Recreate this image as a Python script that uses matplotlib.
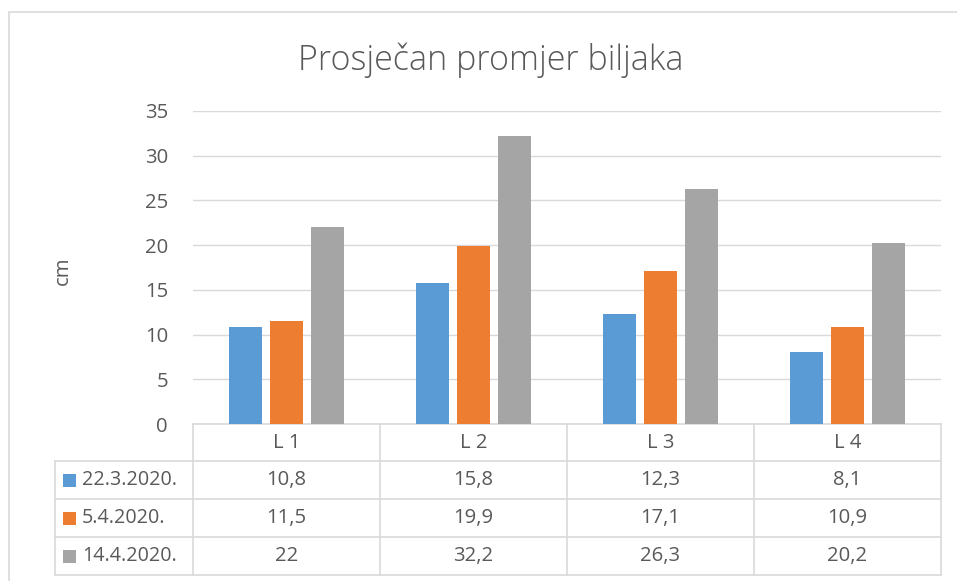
import matplotlib.pyplot as plt
from matplotlib.patches import Rectangle
from matplotlib.transforms import blended_transform_factory

# ==========================================
# Daten
# ==========================================
categories = ["L 1", "L 2", "L 3", "L 4"]
series_names = ["22.3.2020.", "5.4.2020.", "14.4.2020."]
s_223 = [10.8, 15.8, 12.3, 8.1]
s_54 = [11.5, 19.9, 17.1, 10.9]
s_144 = [22, 32.2, 26.3, 20.2]
series_values = [s_223, s_54, s_144]
colors = ["#5B9BD5", "#ED7D31", "#A5A5A5"]

text_col = "#595959"
grid_col = "#D9D9D9"
W, H = 957, 581
fs = 14.6

plt.rcParams["font.family"] = ["Open Sans", "DejaVu Sans"]

fig = plt.figure(figsize=(W / 100, H / 100), dpi=100)

def fx(px):
    return px / W

def fy(py):
    return 1 - py / H

# Rahmen des Diagrammbereichs
fig.patches.append(Rectangle((fx(9), fy(1000)), 2, fy(12) - fy(1000), transform=fig.transFigure,
                             fill=False, edgecolor=grid_col, linewidth=1.2))

ax = fig.add_axes([fx(193), fy(424), fx(941) - fx(193), fy(111) - fy(424)])

x = range(len(categories))
offsets = [-0.22, 0.0, 0.22]
for vals, off, col, name in zip(series_values, offsets, colors, series_names):
    ax.bar([i + off for i in x], vals, width=0.176, color=col, label=name, zorder=3)

ax.set_xlim(-0.5, len(categories) - 0.5)
ax.set_ylim(0, 35)
ax.set_yticks(range(0, 36, 5))
ax.yaxis.grid(True, color=grid_col, linewidth=1.0, zorder=0)
ax.set_xticks([])
for sp in ax.spines.values():
    sp.set_visible(False)
ax.tick_params(axis="y", length=0, pad=18, labelsize=fs, labelcolor=text_col)
ax.set_ylabel("cm", fontsize=fs, color=text_col)
ax.yaxis.set_label_coords((73 - 193) / 748, 0.49)

fig.text(fx(491), fy(60), "Prosječan promjer biljaka", ha="center", va="center",
         fontsize=24.5, color=text_col, fontweight="light")

# ==========================================
# Datentabelle unter dem Diagramm
# ==========================================
tr = blended_transform_factory(ax.transData, fig.transFigure)
row_y = [424, 461, 499, 537, 575]  # Zeilengrenzen (Pixel)
lw = 1.2

# horizontale Linien
for k, py in enumerate(row_y):
    if k == 0:
        ax.plot([-0.5, len(categories) - 0.5], [fy(py)] * 2, transform=tr, color=grid_col,
                lw=lw, clip_on=False)
    else:
        fig.add_artist(plt.Line2D([fx(55), fx(941)], [fy(py)] * 2, transform=fig.transFigure,
                                  color=grid_col, lw=lw))
# vertikale Linien
for i in range(len(categories) + 1):
    ax.plot([i - 0.5, i - 0.5], [fy(row_y[0]), fy(row_y[-1])], transform=tr, color=grid_col,
            lw=lw, clip_on=False)
fig.add_artist(plt.Line2D([fx(55), fx(55)], [fy(row_y[1]), fy(row_y[-1])],
                          transform=fig.transFigure, color=grid_col, lw=lw))

# Kopfzeile
for i, c in enumerate(categories):
    ax.text(i, (fy(row_y[0]) + fy(row_y[1])) / 2, c, transform=tr, ha="center", va="center",
            fontsize=fs, color=text_col)

# Datenzeilen
for r, (name, vals, col) in enumerate(zip(series_names, series_values, colors)):
    yc = (fy(row_y[r + 1]) + fy(row_y[r + 2])) / 2
    fig.patches.append(Rectangle((fx(63), yc - 6.5 / H), 13 / W, 13 / H, transform=fig.transFigure,
                                 facecolor=col, edgecolor="none"))
    fig.text(fx(82), yc, name, ha="left", va="center", fontsize=14.2, color=text_col)
    for i, v in enumerate(vals):
        ax.text(i, yc, f"{v:g}".replace(".", ","), transform=tr, ha="center", va="center",
                fontsize=fs, color=text_col)

fig.savefig("out.png", dpi=100)
